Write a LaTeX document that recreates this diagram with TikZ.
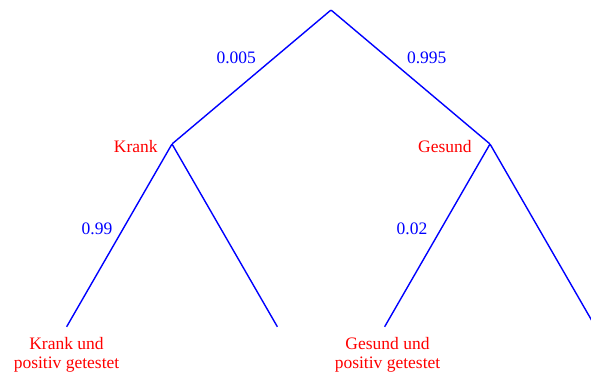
\documentclass[tikz,border=0pt]{standalone}
\usepackage{fontspec}
\setmainfont{Liberation Serif}
\usetikzlibrary{positioning}

\begin{document}
\begin{tikzpicture}
                [x=1pt, y=1pt,
                every node/.style={inner sep=0pt, minimum size=0pt, font=\fontsize{17.5pt}{18.5pt}\selectfont},
                edge from parent/.style={draw=blue, line width=1.4pt},
                prob/.style={text=blue},
                state/.style={text=red},
                level 1/.style={level distance=134pt, sibling distance=318pt},
                level 2/.style={level distance=183pt, sibling distance=211pt}]
                \useasboundingbox (0,0) rectangle (591,-377);
                \clip (0,0) rectangle (591,-377);
                \node (root) at (331,-10) {}
                child {node (krank) [label={[state, label distance=14pt, yshift=-3pt]left:Krank}] {}
                child {node (krankpos) [label={[state, label distance=10pt, align=center]below:{Krank und\\positiv getestet}}] {}
                edge from parent node[prob, anchor=east, pos=0.464, xshift=-10pt] {0.99}
                }
                child {node (krankneg) {}}
                edge from parent node[prob, anchor=east, pos=0.354, xshift=-18pt] {0.005}
                }
                child {node (gesund) [label={[state, label distance=18pt, yshift=-3pt]left:Gesund}] {}
                child {node (gesundpos) [label={[state, label distance=10pt, align=center, xshift=3pt]below:{Gesund und\\positiv getestet}}] {}
                edge from parent node[prob, anchor=east, pos=0.464, xshift=-13pt] {0.02}
                }
                child {node (gesundneg) {}}
                edge from parent node[prob, anchor=west, pos=0.354, xshift=19pt] {0.995}
                };
            \end{tikzpicture}
\end{document}
